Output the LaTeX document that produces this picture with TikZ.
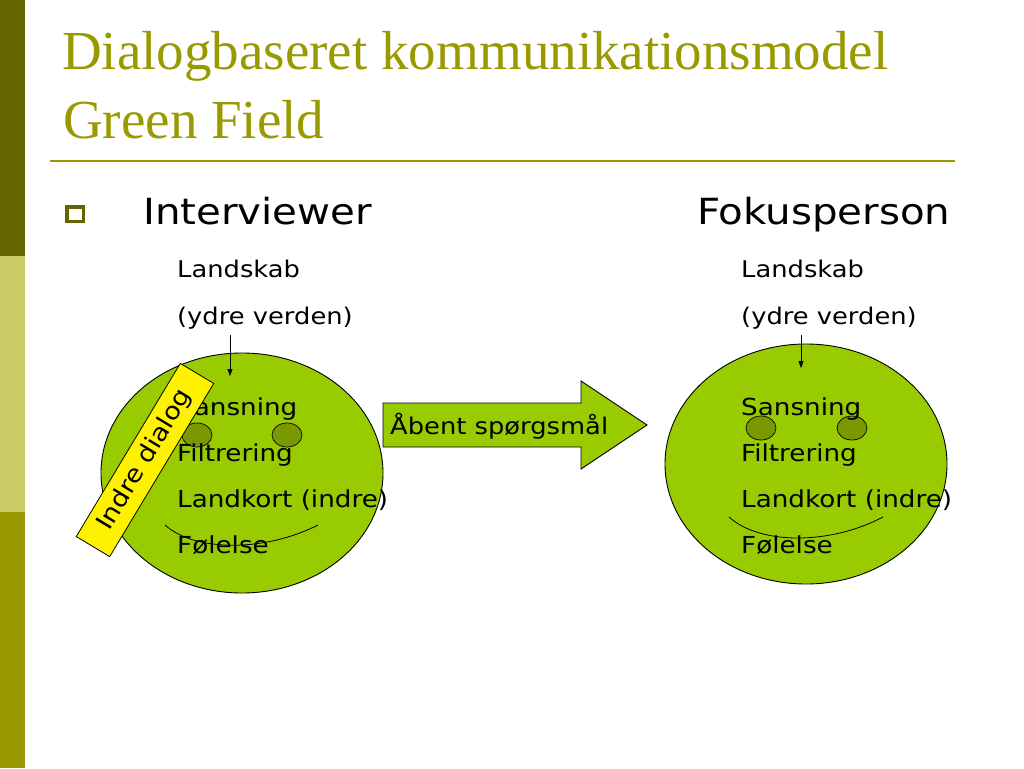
\documentclass[tikz,border=0pt]{standalone}
\usepackage{fontspec}
\setmainfont{Liberation Serif}
\newfontfamily\bodyfont[FakeStretch=1.12]{DejaVu Sans}
\usetikzlibrary{positioning,arrows.meta,shapes.geometric}
\definecolor{oliven}{RGB}{102,102,0}
\definecolor{olivenlys}{RGB}{204,204,102}
\definecolor{olivenmid}{RGB}{153,153,0}
\definecolor{titelfarve}{RGB}{153,153,0}
\definecolor{ansigtgroen}{RGB}{153,204,0}
\definecolor{oejegroen}{RGB}{122,153,0}
\tikzset{
	titel/.style={font=\fontsize{55}{60}\selectfont, text=titelfarve},
	overskrift/.style={font=\bodyfont\fontsize{36}{40}\selectfont},
	lille/.style={font=\bodyfont\fontsize{23}{26}\selectfont},
	tekst/.style={font=\bodyfont\fontsize{23.4}{28}\selectfont},
	ansigt/.style={ellipse, draw=black, line width=0.9pt, fill=ansigtgroen, minimum width=282, minimum height=240, anchor=center},
	oeje/.style={ellipse, draw=black, line width=0.7pt, fill=oejegroen, minimum width=30, minimum height=24, anchor=center},
	pil/.style={-{Triangle[length=7pt,width=5pt]}, line width=0.8pt},
	dialogboks/.style={draw=black, line width=0.8pt, fill=yellow, rotate=59, minimum width=202, minimum height=39, anchor=center, font=\bodyfont\fontsize{24}{28}\selectfont}
}

\begin{document}
\begin{tikzpicture}[x=1pt, y=-1pt, every node/.style={inner sep=0pt, anchor=base west}]
			\useasboundingbox (0,0) rectangle (1024,768);
			\fill[oliven] (0,0) rectangle (25,256);
			\fill[olivenlys] (0,256) rectangle (25,512);
			\fill[olivenmid] (0,512) rectangle (25,768);
			\node [titel] (titel1) at (62,70) {Dialogbaseret kommunikationsmodel};
			\node [titel] (titel2) at (63,138) {Green Field};
			\draw [titelfarve, line width=2pt] (50,161) -- (955,161);
			\draw [oliven, line width=3.5pt] (66.75,206.75) rectangle (83.25,221.25);
			\node [overskrift] (interviewer) at (143,224) {Interviewer};
			\node [overskrift] (fokus) at (697,224) {Fokusperson};
			\node [lille] (landA) at (177,277) {Landskab};
			\node [lille] (ydreA) at (177,324) {(ydre verden)};
			\node [lille] (landB) at (741,277) {Landskab};
			\node [lille] (ydreB) at (741,324) {(ydre verden)};
			\node [ansigt] (ansigtA) at (242,473) {};
			\node [ansigt] (ansigtB) at (806,464) {};
			\node [oeje] (oejeA1) at (197,435) {};
			\node [oeje] (oejeA2) at (287,435) {};
			\node [oeje] (oejeB1) at (761,428) {};
			\node [oeje] (oejeB2) at (852,428) {};
			\draw [line width=0.8pt] (165,525) .. controls (195,552) and (265,552) .. (318,525);
			\draw [line width=0.8pt] (729,517) .. controls (760,545) and (830,545) .. (883,517);
			\coordinate (pilA) at (230,376);
			\coordinate (pilB) at (801,368);
			\draw [pil] (pilA |- ydreA.south) ++(0,6) -- (pilA);
			\draw [pil] (pilB |- ydreB.south) ++(0,6) -- (pilB);
			\node [tekst] (sansA) at (177,415) {Sansning};
			\node [tekst] (filtA) at (177,461) {Filtrering};
			\node [tekst] (kortA) at (177,507) {Landkort (indre)};
			\node [tekst] (foelA) at (177,553) {Følelse};
			\node [tekst] (sansB) at (741,415) {Sansning};
			\node [tekst] (filtB) at (741,461) {Filtrering};
			\node [tekst] (kortB) at (741,507) {Landkort (indre)};
			\node [tekst] (foelB) at (741,553) {Følelse};
			\draw [fill=ansigtgroen, line width=0.9pt] (383,403) -- (581,403) -- (581,381) -- (647,425) -- (581,469) -- (581,447) -- (383,447) -- cycle;
			\node [tekst, font=\bodyfont\fontsize{23}{28}\selectfont] (spoergsmaal) at (390,434) {Åbent spørgsmål};
			\node [dialogboks] (indre) at (145,460) {Indre dialog};
		\end{tikzpicture}
\end{document}
